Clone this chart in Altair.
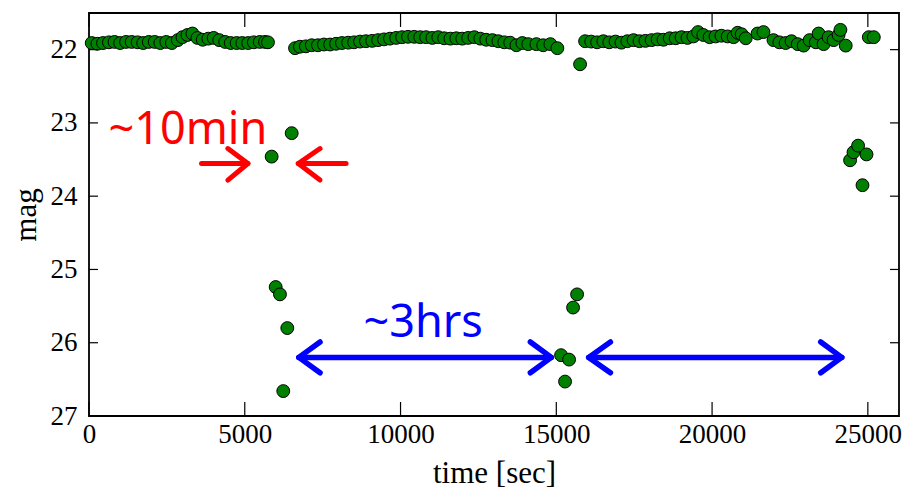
import altair as alt
import pandas as pd

# ---- light curve data (time [sec], mag) ----
band1_t = [87, 270, 450, 640, 820, 1000, 1190, 1370, 1560, 1740, 1920, 2110, 2290, 2480,
           2660, 2850, 3000, 3160, 3320, 3480, 3650, 3830, 4000, 4180, 4370, 4550, 4740,
           4920, 5110, 5290, 5480, 5650, 5745]
band1_mag = [21.91, 21.92, 21.91, 21.90, 21.895, 21.91, 21.895, 21.895, 21.90, 21.91, 21.895,
             21.895, 21.91, 21.895, 21.91, 21.87, 21.83, 21.80, 21.78, 21.84, 21.865, 21.85,
             21.84, 21.87, 21.895, 21.91, 21.91, 21.91, 21.91, 21.90, 21.895, 21.895, 21.90]

band2_t = [6613, 6770, 6960, 7150, 7350, 7540, 7740, 7930, 8120, 8320, 8510, 8700, 8890, 9090,
           9280, 9470, 9660, 9860, 10050, 10240, 10440, 10630, 10820, 11020, 11210, 11400,
           11600, 11790, 11980, 12170, 12370, 12560, 12750, 12950, 13140, 13330, 13520, 13720,
           13910, 14100, 14360, 14580, 14810, 15034]
band2_mag = [21.98, 21.96, 21.955, 21.94, 21.94, 21.93, 21.93, 21.92, 21.91, 21.905, 21.90,
             21.89, 21.885, 21.88, 21.87, 21.86, 21.85, 21.84, 21.83, 21.825, 21.825, 21.83,
             21.83, 21.84, 21.83, 21.845, 21.85, 21.845, 21.85, 21.84, 21.83, 21.85, 21.865,
             21.87, 21.885, 21.90, 21.905, 21.94, 21.91, 21.925, 21.925, 21.94, 21.925, 21.98]

band3_t = [15924, 16120, 16310, 16510, 16700, 16900, 17090, 17280, 17480, 17670, 17860, 18060,
           18250, 18440, 18640, 18830, 19020, 19210, 19400, 19550, 19720, 19920, 20110, 20300,
           20500, 20690, 20820, 20950, 21080, 21460, 21650, 21970, 22160, 22360, 22550, 22750,
           22940, 23130, 23330, 23420, 23580, 23740, 23900, 24060, 24120, 24290, 25031, 25191]
band3_mag = [21.885, 21.89, 21.90, 21.885, 21.90, 21.89, 21.905, 21.885, 21.87, 21.885, 21.88,
             21.87, 21.86, 21.865, 21.845, 21.845, 21.83, 21.84, 21.82, 21.76, 21.80, 21.83,
             21.82, 21.81, 21.82, 21.83, 21.77, 21.79, 21.845, 21.78, 21.76, 21.87, 21.90,
             21.91, 21.885, 21.925, 21.945, 21.87, 21.90, 21.78, 21.925, 21.83, 21.87, 21.80,
             21.73, 21.945, 21.83, 21.83]

faint_t = [5863, 5992, 6130, 6236, 6365, 6506, 15153, 15281, 15410, 15538, 15667, 15763,
           24430, 24539, 24687, 24828, 24957]
faint_mag = [23.46, 25.24, 25.34, 26.66, 25.80, 23.14, 26.17, 26.53, 26.23, 25.52, 25.34, 22.20,
             23.51, 23.40, 23.31, 23.85, 23.43]

# ---- axis ticks ----
x_ticks = [0, 5000, 10000, 15000, 20000, 25000]
y_ticks = [22, 23, 24, 25, 26, 27]

# ---- annotations (data units) ----
red_arrow_id = ["r1", "r1", "r2", "r2", "r3", "r3", "r3", "r4", "r4", "r4"]
red_arrow_x = [3613, 5100, 6718, 8251, 4458, 5100, 4458, 7416, 6718, 7416]
red_arrow_y = [23.554, 23.554, 23.554, 23.554, 23.35, 23.554, 23.78, 23.35, 23.554, 23.78]

blue_arrow_id = ["b1", "b1", "b2", "b2", "b3", "b3", "b3", "b4", "b4", "b4",
                 "b5", "b5", "b5", "b6", "b6", "b6"]
blue_arrow_x = [6735, 14840, 16040, 24163, 7416, 6735, 7416, 14167, 14840, 14167,
                16737, 16040, 16737, 23488, 24163, 23488]
blue_arrow_y = [26.20, 26.20, 26.20, 26.20, 25.99, 26.20, 26.41, 25.99, 26.20, 26.41,
                25.99, 26.20, 26.41, 25.99, 26.20, 26.41]

labels_text = ["~10min", "~3hrs"]
labels_x = [3173, 10726]
labels_y = [23.10, 25.73]
labels_color = ["#ff0000", "#0000ff"]

# ---- build tables ----
pts = pd.DataFrame({
    "time": band1_t + band2_t + band3_t + faint_t,
    "mag": band1_mag + band2_mag + band3_mag + faint_mag,
})
red_df = pd.DataFrame({"id": red_arrow_id, "x": red_arrow_x, "y": red_arrow_y})
red_df["order"] = range(len(red_df))
blue_df = pd.DataFrame({"id": blue_arrow_id, "x": blue_arrow_x, "y": blue_arrow_y})
blue_df["order"] = range(len(blue_df))
lab_df = pd.DataFrame({"text": labels_text, "x": labels_x, "y": labels_y, "c": labels_color})
xt_df = pd.DataFrame({"v": x_ticks})
yt_df = pd.DataFrame({"v": y_ticks})

W, H = 810, 403
xs = alt.Scale(domain=[0, 26000], nice=False, zero=False)
ys = alt.Scale(domain=[21.5, 27], nice=False, zero=False, reverse=True)

x_axis = alt.Axis(values=x_ticks, format="d", labelFlush=False, labelOverlap=False,
                  labelPadding=5, titlePadding=11)
y_axis = alt.Axis(values=y_ticks, format="d", labelFlush=False, labelOverlap=False,
                  labelPadding=12, titlePadding=8)


def X(field):
    return alt.X(field, scale=xs, axis=x_axis, title="time [sec]")


def Y(field):
    return alt.Y(field, scale=ys, axis=y_axis, title="mag")


serif = "Liberation Serif"

points = alt.Chart(pts).mark_circle(
    size=165, color="#008000", opacity=1, stroke="black", strokeWidth=1
).encode(x=X("time:Q"), y=Y("mag:Q"))

tick_b = alt.Chart(xt_df).mark_rule(color="black", strokeWidth=1.2).encode(
    x=X("v:Q"), y=alt.value(H), y2=alt.value(H - 14))
tick_t = alt.Chart(xt_df).mark_rule(color="black", strokeWidth=1.2).encode(
    x=X("v:Q"), y=alt.value(0), y2=alt.value(14))
tick_l = alt.Chart(yt_df).mark_rule(color="black", strokeWidth=1.2).encode(
    y=Y("v:Q"), x=alt.value(0), x2=alt.value(9))
tick_r = alt.Chart(yt_df).mark_rule(color="black", strokeWidth=1.2).encode(
    y=Y("v:Q"), x=alt.value(W), x2=alt.value(W - 9))

red_arrows = alt.Chart(red_df).mark_line(
    color="#ff0000", strokeWidth=5, strokeCap="round", strokeJoin="round"
).encode(x=X("x:Q"), y=Y("y:Q"), detail="id:N", order="order:Q")

blue_arrows = alt.Chart(blue_df).mark_line(
    color="#0000ff", strokeWidth=5.5, strokeCap="round", strokeJoin="round"
).encode(x=X("x:Q"), y=Y("y:Q"), detail="id:N", order="order:Q")

texts = alt.Chart(lab_df).mark_text(
    font="Noto Sans", fontSize=45, align="center", baseline="middle"
).encode(x=X("x:Q"), y=Y("y:Q"), text="text:N", color=alt.Color("c:N", scale=None))

chart = alt.layer(
    points, tick_b, tick_t, tick_l, tick_r, red_arrows, blue_arrows, texts
).properties(
    width=W, height=H,
    background="white",
    autosize=alt.AutoSizeParams(type="none"),
    padding={"left": 81, "top": 5, "right": 4, "bottom": 80},
).configure_view(
    stroke="black", strokeWidth=1.8
).configure_axis(
    labelFont=serif, labelFontSize=27, labelColor="black",
    titleFont=serif, titleFontSize=31, titleFontWeight="normal", titleColor="black",
    ticks=False, domain=False, grid=False,
)

chart.save("out.html", embed_options={"renderer": "svg", "actions": False})
